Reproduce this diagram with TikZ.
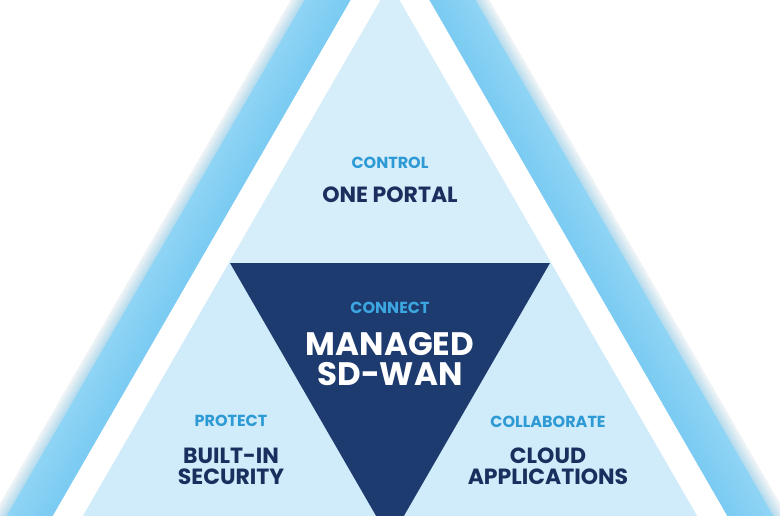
\documentclass[tikz,border=0pt]{standalone}
\usepackage{fontspec}
\setmainfont{Poppins}
\definecolor{navy}{HTML}{1E3B6F}
\definecolor{navytext}{HTML}{1B2F5F}
\definecolor{lbl}{HTML}{2E9AD5}
\definecolor{lblc}{HTML}{3BA6E0}
\definecolor{innerc}{HTML}{D0EBF9}
\definecolor{innertop}{HTML}{D5EEFA}
\definecolor{bandin}{HTML}{7BCBF2}
\definecolor{bandout}{HTML}{8ED4F5}
\definecolor{fuzzin}{HTML}{B9DDEE}
\definecolor{fuzzout}{HTML}{EEF3F5}
\newcommand\mytri[2]{\fill[#2] (390,#1) -- ({390-(700-(#1))*0.57735},700) -- ({390+(700-(#1))*0.57735},700) -- cycle;}
\begin{document}
\begin{tikzpicture}[x=1pt,y=-1pt,
  lab/.style={font=\fontsize{16}{16}\selectfont\bfseries, text=lbl, anchor=base, inner sep=0pt},
  big/.style={font=\fontsize{22}{22}\selectfont\bfseries, text=navytext, anchor=base, inner sep=0pt},
  huge/.style={font=\fontsize{32.5}{32.5}\selectfont\bfseries, text=white, anchor=base, inner sep=0pt}]
\useasboundingbox (0,0) rectangle (780,516);
\clip (0,0) rectangle (780,516);
\fill[white] (0,0) rectangle (780,516);
\foreach \i in {0,...,5}{
  \pgfmathsetmacro\a{-172+\i*4}
  \pgfmathtruncatemacro\p{100-\i*20}
  \mytri{\a}{fuzzout!\p!fuzzin}
}
\foreach \i in {0,...,9}{
  \pgfmathsetmacro\a{-148+\i*8}
  \pgfmathtruncatemacro\p{100-\i*11}
  \mytri{\a}{bandout!\p!bandin}
}
\mytri{-68}{white}
\mytri{-16}{innerc}
\fill[innertop] (390,-16) -- ({390-279*0.57735},263) -- ({390+279*0.57735},263) -- cycle;
\fill[navy] (230,263) -- (550,263) -- (390,540) -- cycle;
\node[lab] (control) at (390,169) {CONTROL};
\node[big] (portal) at (390,203) {ONE PORTAL};
\node[lab, text=lblc] (connect) at (390,313) {CONNECT};
\node[huge] (managed) at (390,355) {MANAGED};
\node[huge] (sdwan) at (390,385) {SD-WAN};
\node[lab] (protect) at (231,426) {PROTECT};
\node[big] (builtin) at (231,463) {BUILT-IN};
\node[big] (security) at (231,484) {SECURITY};
\node[lab] (collab) at (548,427) {COLLABORATE};
\node[big] (cloud) at (548,463) {CLOUD};
\node[big] (apps) at (548,484) {APPLICATIONS};
\end{tikzpicture}
\end{document}
